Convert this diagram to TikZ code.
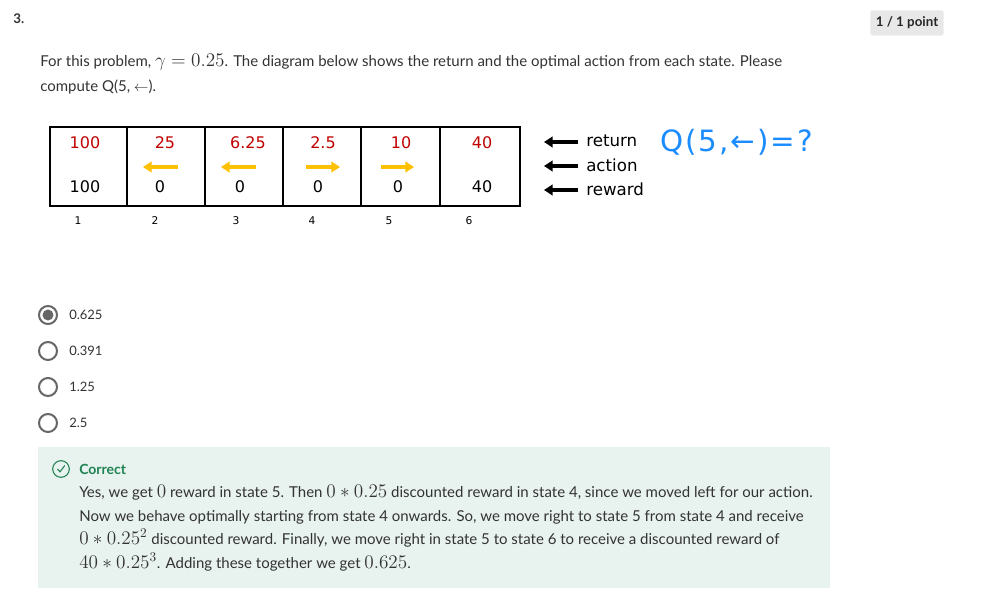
\documentclass[tikz,border=0pt]{standalone}
\usepackage{fontspec}
\setmainfont{Lato}
\newfontfamily\verd{DejaVu Sans}
\usetikzlibrary{arrows.meta,calc}
\definecolor{txt}{HTML}{333333}
\definecolor{rednum}{HTML}{C00000}
\definecolor{orng}{HTML}{FFC000}
\definecolor{hand}{HTML}{1A8CFF}
\definecolor{badge}{HTML}{E8E8E8}
\definecolor{fbbg}{HTML}{E8F2EE}
\definecolor{okgreen}{HTML}{1F8354}
\definecolor{radio}{HTML}{666666}
\newcommand\mathbigx[1]{{\fontsize{14}{16}\selectfont$#1$}}
\tikzset{
  plain/.style={inner sep=0pt, text=txt, font=\fontsize{11.25}{13}\selectfont, anchor=base west},
  small/.style={inner sep=0pt, text=txt, font=\fontsize{9.75}{12}\selectfont, anchor=base west},
  cellnum/.style={inner sep=0pt, font=\verd\fontsize{12}{14}\selectfont},
  topnum/.style={cellnum, text=rednum},
  botnum/.style={cellnum, text=black},
  idx/.style={inner sep=0pt, font=\verd\fontsize{8}{10}\selectfont, text=black},
  legend/.style={inner sep=0pt, font=\verd\fontsize{12.5}{14}\selectfont, text=black, anchor=west},
  cellline/.style={line width=2.2pt, draw=black},
  actarrow/.style={draw=orng, line width=2.6pt, -{Triangle[length=6.5pt,width=8pt]}},
  legarrow/.style={draw=black, line width=2.6pt, -{Triangle[length=6.5pt,width=8pt]}},
  radiobox/.style={circle, draw=radio, line width=1.5pt, minimum size=13.5pt, inner sep=0pt},
  expl/.style={inner sep=0pt, text=txt, font=\fontsize{11.25}{13}\selectfont, anchor=base west},
}
\begin{document}
\begin{tikzpicture}[x=0.75pt,y=-0.75pt]
\useasboundingbox (0,0) rectangle (985,600);
\fill[white] (0,0) rectangle (985,600);

% header
\node[inner sep=0pt, text=txt, font=\bfseries\fontsize{10}{12}\selectfont, anchor=base west] (qnum) at (13,23) {3.};
\node[fill=badge, rounded corners=2pt, minimum width=55pt, minimum height=19pt, inner sep=0pt,
      text=black!85, font=\bfseries\fontsize{10}{12}\selectfont] (pts) at (907,23) {1 / 1 point};

% problem statement
\node[plain] (l1) at (40,66) {For this problem, \mathbigx{\gamma = 0.25}. The diagram below shows the return and the optimal action from each state. Please};
\node[plain] (l2) at (40,91) {compute Q(5, $\leftarrow$).};

% grid
\foreach \xa/\xb [count=\i] in {50/127,127/205,205/283,283/361,361/440,440/520}{
  \draw[cellline] (\xa,127) rectangle (\xb,206);
}
\node[topnum] (t1) at (85,143) {100};
\node[topnum] (t2) at (165,143) {25};
\node[topnum] (t3) at (248,143) {6.25};
\node[topnum] (t4) at (323,143) {2.5};
\node[topnum] (t5) at (401,143) {10};
\node[topnum] (t6) at (482,143) {40};
\node[botnum] (b1) at (85,187) {100};
\node[botnum] (b2) at (160,187) {0};
\node[botnum] (b3) at (240,187) {0};
\node[botnum] (b4) at (318,187) {0};
\node[botnum] (b5) at (398,187) {0};
\node[botnum] (b6) at (482,187) {40};
\node[idx] (i1) at (78,221) {1};
\node[idx] (i2) at (155,221) {2};
\node[idx] (i3) at (236,221) {3};
\node[idx] (i4) at (312,221) {4};
\node[idx] (i5) at (389,221) {5};
\node[idx] (i6) at (469,221) {6};

% action arrows
\coordinate (a2s) at (178,167); \coordinate (a2e) at (143,167);
\coordinate (a3s) at (256,167); \coordinate (a3e) at (221,167);
\coordinate (a4s) at (306,167); \coordinate (a4e) at (340,167);
\coordinate (a5s) at (381,167); \coordinate (a5e) at (414,167);
\draw[actarrow] (a2s) -- (a2e);
\draw[actarrow] (a3s) -- (a3e);
\draw[actarrow] (a4s) -- (a4e);
\draw[actarrow] (a5s) -- (a5e);

% legend
\node[legend] (lret) at (586,141) {return};
\node[legend] (lact) at (586,165) {action};
\node[legend] (lrew) at (586,189) {reward};
\coordinate (r1) at (578,142); \coordinate (r1e) at (544,142);
\coordinate (r2) at (578,166); \coordinate (r2e) at (544,166);
\coordinate (r3) at (578,190); \coordinate (r3e) at (544,190);
\draw[legarrow] (r1) -- (r1e);
\draw[legarrow] (r2) -- (r2e);
\draw[legarrow] (r3) -- (r3e);

% handwritten note
\node[inner sep=0pt, text=hand, font=\verd\fontsize{22}{24}\selectfont, anchor=west] (hw) at (660,142) {Q\kern1.5pt(\kern1.5pt5\kern1.5pt,\kern1.5pt←\kern1.5pt)\kern1.5pt=\kern1.5pt?};

% options
\node[radiobox] (o1) at (48,315) {};
\fill[radio] (o1.center) circle (5.5);
\node[radiobox] (o2) at (48,351) {};
\node[radiobox] (o3) at (48,387) {};
\node[radiobox] (o4) at (48,423) {};
\node[small, anchor=west] (t01) at (69,315) {0.625};
\node[small, anchor=west] (t02) at (69,351) {0.391};
\node[small, anchor=west] (t03) at (69,387) {1.25};
\node[small, anchor=west] (t04) at (69,423) {2.5};

% feedback
\fill[fbbg] (38,447) rectangle (830,588);
\node[circle, draw=okgreen, line width=0.8pt, minimum size=12.5pt, inner sep=0pt] (ok) at (61,469) {};
\draw[okgreen, line width=0.8pt] ($(ok.center)+(-3.5,0)$) -- ($(ok.center)+(-1,2.8)$) -- ($(ok.center)+(3.8,-3.5)$);
\node[inner sep=0pt, text=okgreen, font=\bfseries\fontsize{10.5}{12}\selectfont, anchor=base west] (corr) at (79,474) {Correct};
\node[expl] (e1) at (79,497) {Yes, we get \mathbigx{0} reward in state 5. Then \mathbigx{0*0.25} discounted reward in state 4, since we moved left for our action.};
\node[expl] (e2) at (79,521) {Now we behave optimally starting from state 4 onwards. So, we move right to state 5 from state 4 and receive};
\node[expl] (e3) at (79,544) {\mathbigx{0*0.25^2} discounted reward. Finally, we move right in state 5 to state 6 to receive a discounted reward of};
\node[expl] (e4) at (79,568) {\mathbigx{40*0.25^3}. Adding these together we get \mathbigx{0.625}.};
\end{tikzpicture}
\end{document}
